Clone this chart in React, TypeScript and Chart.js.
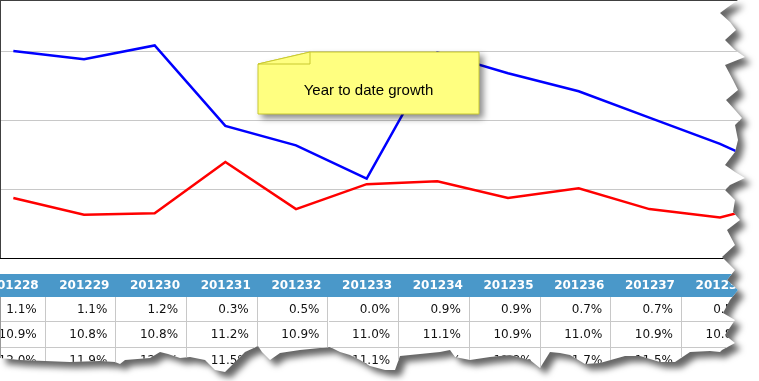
import React, { useEffect, useRef } from "react";
import { Chart, registerables } from "chart.js";

Chart.register(...registerables);

// ---- data ----
const weeks = ["201228", "201229", "201230", "201231", "201232", "201233", "201234", "201235", "201236", "201237", "201238", "201239"];
// blue line: year to date growth (%)
const ytdGrowth = [12.0, 11.94, 12.04, 11.46, 11.32, 11.08, 11.99, 11.84, 11.71, 11.52, 11.33, 11.1];
// red line: comparison growth (%)
const baseGrowth = [10.94, 10.82, 10.83, 11.2, 10.86, 11.04, 11.06, 10.94, 11.01, 10.86, 10.8, 10.93];
const yMin = 10.5;
const yMax = 12.368;
const yStep = 0.5;
const noteText = "Year to date growth";

// ---- layout / decoration (not data) ----
const COL_W = 70.7;
const TABLE_LEFT = -25;
const CHART_LEFT = -22;
const CHART_H = 259;

const tearRight: [number, number][] = [
  [738, 0], [728, 7], [720, 13], [730, 22], [736, 30], [725, 40], [735, 50], [745, 57], [725, 65],
  [733, 80], [738, 90], [726, 100], [735, 110], [742, 118], [735, 125], [738, 140], [735, 152],
  [725, 165], [735, 172], [745, 178], [730, 185], [725, 190], [735, 200], [733, 212], [740, 220],
  [727, 230], [735, 245], [722, 257], [735, 270], [727, 280], [738, 290], [730, 300], [723, 313],
  [735, 320], [725, 335], [735, 343], [722, 350],
];
const tearBottom: [number, number][] = [
  [720, 352], [710, 351], [690, 352], [675, 362], [660, 362], [640, 356], [625, 356], [600, 363],
  [585, 364], [570, 355], [560, 353], [550, 352], [540, 368], [530, 360], [510, 355], [490, 357],
  [470, 360], [455, 357], [450, 350], [440, 352], [420, 354], [400, 356], [395, 370], [385, 370],
  [370, 366], [360, 360], [350, 355], [340, 352], [330, 347], [300, 350], [280, 353], [270, 360],
  [262, 352], [258, 346], [245, 352], [235, 362], [225, 372], [215, 370], [205, 360], [190, 357],
  [180, 358], [168, 354], [160, 352], [150, 358], [125, 360], [120, 364], [115, 362], [100, 361],
  [70, 362], [20, 360], [0, 358],
];
const clipPoly =
  "polygon(0px 0px, " +
  [...tearRight, ...tearBottom].map(([x, y]) => `${x}px ${y}px`).join(", ") +
  ")";

const fmt = (v: number) => v.toFixed(1) + "%";
const rowDiff = ytdGrowth.map((v, i) => fmt(Math.round((v - baseGrowth[i]) * 10) / 10));
const rowBase = baseGrowth.map(fmt);
const rowYtd = ytdGrowth.map(fmt);
const tableRows = [rowDiff, rowBase, rowYtd];

function LineChart() {
  const ref = useRef<HTMLCanvasElement | null>(null);
  useEffect(() => {
    if (!ref.current) return;
    const chart = new Chart(ref.current, {
      type: "line",
      data: {
        labels: weeks,
        datasets: [
          { data: ytdGrowth, borderColor: "#0000ff", borderWidth: 2.5, pointRadius: 0, tension: 0, fill: false },
          { data: baseGrowth, borderColor: "#ff0000", borderWidth: 2.5, pointRadius: 0, tension: 0, fill: false },
        ],
      },
      options: {
        animation: false,
        responsive: false,
        devicePixelRatio: 1,
        layout: { padding: 0, autoPadding: false },
        plugins: { legend: { display: false }, tooltip: { enabled: false } },
        scales: {
          x: {
            offset: true,
            display: true,
            ticks: { display: false },
            grid: { display: false, drawTicks: false },
            border: { display: false },
          },
          y: {
            min: yMin,
            max: yMax,
            ticks: { display: false, stepSize: yStep },
            grid: {
              drawTicks: false,
              color: (ctx: any) =>
                ctx.tick && Math.abs(ctx.tick.value / yStep - Math.round(ctx.tick.value / yStep)) < 1e-6 &&
                ctx.tick.value > yMin
                  ? "#c8c8c8"
                  : "rgba(0,0,0,0)",
            },
            border: { display: false },
          },
        },
      },
    });
    return () => chart.destroy();
  }, []);
  return (
    <canvas
      ref={ref}
      width={Math.round(COL_W * weeks.length)}
      height={CHART_H}
      style={{ position: "absolute", left: CHART_LEFT, top: 0, width: Math.round(COL_W * weeks.length), height: CHART_H }}
    />
  );
}

function Callout() {
  return (
    <div style={{ position: "absolute", left: 250, top: 45, width: 240, height: 80 }}>
      <svg
        width={240}
        height={80}
        style={{ position: "absolute", left: 0, top: 0, overflow: "visible", filter: "drop-shadow(4px 4px 3px rgba(0,0,0,0.45))" }}
      >
        <polygon points="8,19 60,7 229,7 229,69 8,69" fill="#ffff80" stroke="#c9c930" strokeWidth={1} />
        <polygon points="8,19 60,7 60,19" fill="#ffff80" stroke="#c9c930" strokeWidth={1} />
      </svg>
      <div
        style={{
          position: "absolute",
          left: 8,
          top: 19,
          width: 221,
          height: 50,
          display: "flex",
          alignItems: "center",
          justifyContent: "center",
          fontFamily: '"Liberation Sans", Arial, sans-serif',
          fontSize: 15,
          color: "#000",
          paddingTop: 1,
          boxSizing: "border-box",
        }}
      >
        {noteText}
      </div>
    </div>
  );
}

function Table() {
  const fam = '"DejaVu Sans", Verdana, sans-serif';
  const rowTops = [297, 322, 348];
  const rowHeights = [25, 26, 26];
  return (
    <>
      <div style={{ position: "absolute", left: 0, top: 274, width: 759, height: 23, background: "#4a98c9" }} />
      {weeks.map((w, i) => (
        <div
          key={"h" + i}
          style={{
            position: "absolute",
            left: TABLE_LEFT + i * COL_W,
            top: 274,
            width: COL_W,
            height: 23,
            fontFamily: fam,
            fontSize: 12,
            fontWeight: "bold",
            lineHeight: "23px",
            textAlign: "right",
            paddingRight: 7,
            boxSizing: "border-box",
            color: "#fff",
            whiteSpace: "nowrap",
            overflow: "hidden",
          }}
        >
          {w}
        </div>
      ))}
      {tableRows.map((row, r) =>
        row.map((txt, i) => (
          <div
            key={r + "-" + i}
            style={{
              position: "absolute",
              left: TABLE_LEFT + i * COL_W,
              top: rowTops[r],
              width: COL_W,
              height: rowHeights[r],
              fontFamily: fam,
              fontSize: 12,
              lineHeight: rowHeights[r] - 1 + "px",
              textAlign: "right",
              paddingRight: 8,
              boxSizing: "border-box",
              borderRight: "1px solid #c8c8c8",
              borderBottom: "1px solid #c8c8c8",
              color: "#111",
              whiteSpace: "nowrap",
            }}
          >
            {txt}
          </div>
        ))
      )}
      <div style={{ position: "absolute", left: 0, top: 297, width: 1, height: 80, background: "#999" }} />
    </>
  );
}

export default function App() {
  return (
    <div
      style={{
        position: "absolute",
        left: 0,
        top: 0,
        width: 759,
        height: 381,
        background: "#fff",
        overflow: "hidden",
      }}
    >
      <div style={{ position: "absolute", left: 0, top: 0, width: 759, height: 381, filter: "drop-shadow(6px 6px 3px rgba(0,0,0,0.6))" }}>
        <div
          style={{
            position: "absolute",
            left: 0,
            top: 0,
            width: 759,
            height: 381,
            background: "#fff",
            clipPath: clipPoly,
            overflow: "hidden",
          }}
        >
          <LineChart />
          <div style={{ position: "absolute", left: 0, top: 0, width: 759, height: 1, background: "#404040" }} />
          <div style={{ position: "absolute", left: 0, top: 0, width: 1, height: 259, background: "#404040" }} />
          <div style={{ position: "absolute", left: 0, top: 258, width: 759, height: 1, background: "#000" }} />
          <Callout />
          <Table />
        </div>
      </div>
    </div>
  );
}
